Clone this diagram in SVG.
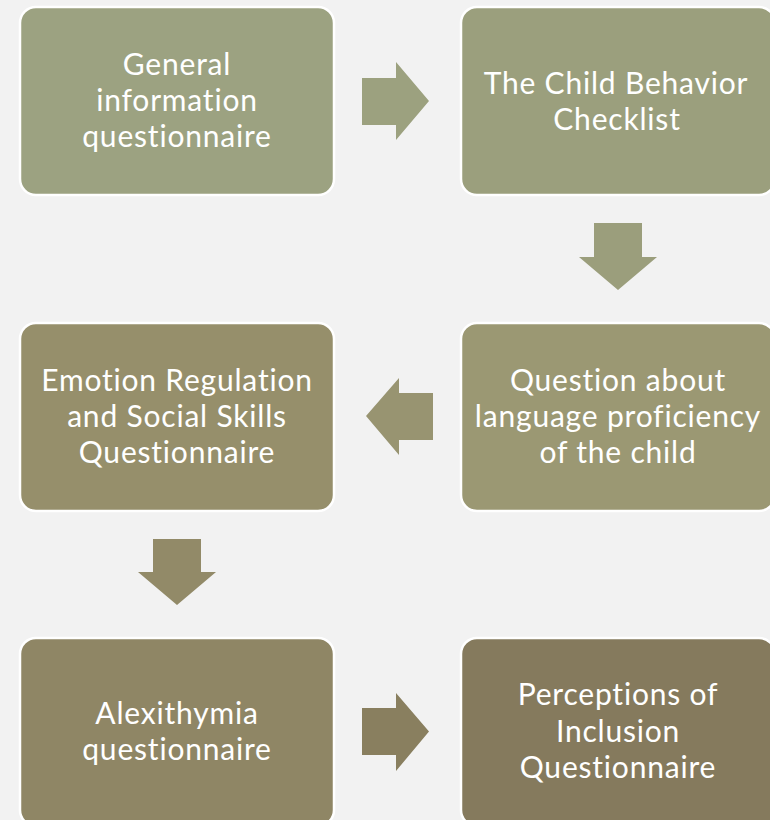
<svg xmlns="http://www.w3.org/2000/svg" width="770" height="820" viewBox="0 0 770 820">
<style>
.box{stroke:#ffffff;stroke-width:2.5}
.t{font-family:Lato,"Open Sans","Liberation Sans",sans-serif;font-size:30px;fill:#ffffff;text-anchor:middle;letter-spacing:0.8px;font-variant-ligatures:none;font-feature-settings:"liga" 0}
</style>
<rect x="0" y="0" width="770" height="820" fill="#f2f2f2"/>
<g id="connectors">
<polygon points="362,78 396,78 396,62 429,101 396,140 396,125 362,125" fill="#9ca17f"/>
<polygon points="594,223 642,223 642,257 657,257 618,290 579,257 594,257" fill="#9b9e7c"/>
<polygon points="433,393 399,393 399,378 366,416 399,455 399,440 433,440" fill="#989471"/>
<polygon points="153,539 201,539 201,572 216,572 177,605 138,572 153,572" fill="#928a68"/>
<polygon points="362,708 396,708 396,693 429,731.5 396,771 396,755 362,755" fill="#897f5f"/>
</g>
<g id="n1">
<rect class="box" x="20" y="7" width="314" height="188" rx="16" fill="#9ca281"/>
<text class="t" x="177" y="75">General</text>
<text class="t" x="177" y="111">information</text>
<text class="t" x="177" y="147">questionnaire</text>
</g>
<g id="n2">
<rect class="box" x="461" y="7" width="314" height="188" rx="16" fill="#9b9f7d"/>
<text class="t" x="616" y="94">The Child Behavior</text>
<text class="t" x="617" y="130">Checklist</text>
</g>
<g id="n4">
<rect class="box" x="461" y="323" width="314" height="188" rx="16" fill="#9b9873"/>
<text class="t" x="618" y="391">Question about</text>
<text class="t" x="618" y="427">language proficiency</text>
<text class="t" x="618" y="463">of the child</text>
</g>
<g id="n3">
<rect class="box" x="20" y="323" width="314" height="188" rx="16" fill="#968f6b"/>
<text class="t" x="177" y="391">Emotion Regulation</text>
<text class="t" x="177" y="427">and Social Skills</text>
<text class="t" x="177" y="463">Questionnaire</text>
</g>
<g id="n5">
<rect class="box" x="20" y="638" width="314" height="188" rx="16" fill="#8f8665"/>
<text class="t" x="177" y="724">Alexithymia</text>
<text class="t" x="177" y="760">questionnaire</text>
</g>
<g id="n6">
<rect class="box" x="461" y="638" width="314" height="188" rx="16" fill="#857a5d"/>
<text class="t" x="618" y="705">Perceptions of</text>
<text class="t" x="618" y="742">Inclusion</text>
<text class="t" x="618" y="778">Questionnaire</text>
</g>
</svg>
